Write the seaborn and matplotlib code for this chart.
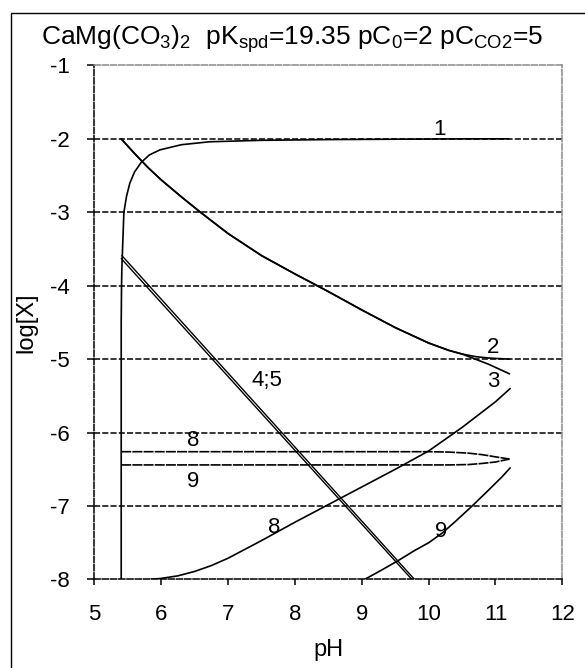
import matplotlib
matplotlib.use("Agg")
import matplotlib.pyplot as plt
import seaborn as sns
import pandas as pd
from matplotlib.patches import Rectangle

# ---------------- data ----------------
x_ticks = [5, 6, 7, 8, 9, 10, 11, 12]
y_ticks = [-8, -7, -6, -5, -4, -3, -2, -1]

c1_x = [5.40, 5.40, 5.405, 5.41, 5.42, 5.44, 5.48, 5.53, 5.60, 5.70, 5.82, 5.98, 6.30, 6.72, 7.50, 8.50, 9.50, 10.50, 11.20]
c1_y = [-8.0, -4.5, -4.0, -3.75, -3.5, -3.0, -2.78, -2.6, -2.45, -2.32, -2.22, -2.15, -2.08, -2.04, -2.02, -2.01, -2.005, -2.0, -2.0]

c23_x = [5.40, 5.60, 5.80, 6.00, 6.30, 6.60, 7.00, 7.50, 8.00, 8.50, 9.00, 9.50, 10.00, 10.30, 10.50, 10.70, 10.90, 11.21]
c2_y = [-2.0, -2.2, -2.39, -2.56, -2.79, -3.01, -3.29, -3.59, -3.84, -4.08, -4.33, -4.57, -4.78, -4.88, -4.93, -4.965, -4.985, -5.0]
c3_y = [-2.0, -2.2, -2.39, -2.56, -2.79, -3.01, -3.29, -3.59, -3.84, -4.08, -4.33, -4.57, -4.78, -4.88, -4.93, -5.0, -5.07, -5.2]

c4_x = [5.41, 9.79]
c4_y = [-3.59, -8.0]
c5_x = [5.40, 9.75]
c5_y = [-3.63, -8.0]

c8a_x = [5.40, 10.0, 10.3, 10.6, 10.8, 11.0, 11.21]
c8a_y = [-6.26, -6.26, -6.265, -6.28, -6.30, -6.33, -6.36]
c9a_x = [5.40, 10.3, 10.6, 10.8, 11.0, 11.21]
c9a_y = [-6.44, -6.44, -6.435, -6.42, -6.40, -6.36]

c8b_x = [5.83, 6.0, 6.25, 6.5, 6.75, 7.0, 7.5, 8.0, 8.5, 9.0, 9.5, 10.0, 10.5, 11.0, 11.22]
c8b_y = [-8.0, -7.985, -7.95, -7.89, -7.81, -7.71, -7.47, -7.22, -6.98, -6.74, -6.5, -6.25, -5.93, -5.58, -5.40]
c9b_x = [9.04, 9.3, 9.54, 9.8, 10.0, 10.2, 10.4, 10.65, 10.9, 11.1, 11.22]
c9b_y = [-8.0, -7.87, -7.745, -7.6, -7.5, -7.37, -7.21, -7.0, -6.78, -6.6, -6.48]

labels = ["1", "2", "3", "4;5", "8", "9", "8", "9"]
label_x = [10.17, 10.97, 10.97, 7.58, 6.47, 6.47, 7.69, 10.18]
label_y = [-1.87, -4.84, -5.30, -5.29, -6.11, -6.67, -7.29, -7.35]

title = r"CaMg(CO$_3$)$_2$  pK$_{spd}$=19.35 pC$_0$=2 pC$_{CO2}$=5"

# ---------------- style ----------------
sns.set_theme(style="white")
plt.rcParams["font.family"] = ["Liberation Sans", "DejaVu Sans"]
plt.rcParams["mathtext.fontset"] = "custom"
plt.rcParams["mathtext.rm"] = "Liberation Sans"
plt.rcParams["mathtext.it"] = "Liberation Sans"
plt.rcParams["mathtext.bf"] = "Liberation Sans"
plt.rcParams["mathtext.default"] = "regular"

fig = plt.figure(figsize=(5.85, 6.68), dpi=100)
ax = fig.add_axes([0.1615, 0.1325, 0.9612 - 0.1615, 0.9021 - 0.1325])

solid = "-"
lens = (0, (6.0, 0.7))
curves = [(c1_x, c1_y, 1.2, solid), (c23_x, c2_y, 1.2, solid), (c23_x, c3_y, 1.2, solid),
          (c4_x, c4_y, 1.0, solid), (c5_x, c5_y, 1.0, solid),
          (c8a_x, c8a_y, 1.2, lens), (c9a_x, c9a_y, 1.2, lens),
          (c8b_x, c8b_y, 1.2, solid), (c9b_x, c9b_y, 1.2, solid)]
for cx, cy, lw, ls in curves:
    df = pd.DataFrame({"pH": cx, "logX": cy})
    sns.lineplot(data=df, x="pH", y="logX", ax=ax, estimator=None, sort=False,
                 color="black", lw=lw, linestyle=ls, zorder=3)

for t, lx, ly in zip(labels, label_x, label_y):
    ax.text(lx, ly, t, ha="center", va="center", fontsize=16, color="black", zorder=4)

ax.set_xlim(5, 12)
ax.set_ylim(-8, -1)
ax.set_xticks(x_ticks)
ax.set_yticks(y_ticks)
ax.set_xticklabels([str(v) for v in x_ticks])
ax.set_yticklabels([str(v) for v in y_ticks])
ax.tick_params(axis="both", labelsize=16, colors="black", direction="out", width=1.1)
ax.tick_params(axis="x", length=4, pad=14, bottom=True)
ax.tick_params(axis="y", length=5, pad=13, left=True)

dash = (0, (4.0, 1.4))
ax.yaxis.grid(True, color="black", lw=1.1, linestyle=dash)
ax.xaxis.grid(False)
ax.set_axisbelow(True)
gl = ax.get_ygridlines()
gl[0].set_visible(False)
gl[-1].set_visible(False)

for side in ["left", "bottom"]:
    ax.spines[side].set_visible(True)
    ax.spines[side].set_color("black")
    ax.spines[side].set_linewidth(1.1)
    ax.spines[side].set_linestyle(dash)
for side in ["top", "right"]:
    ax.spines[side].set_visible(True)
    ax.spines[side].set_color("#8a8a8a")
    ax.spines[side].set_linewidth(1.1)
    ax.spines[side].set_linestyle(dash)

ax.set_xlabel("pH", fontsize=17, color="black")
ax.set_ylabel("log[X]", fontsize=17, color="black")
ax.xaxis.label.set_va("center")
ax.yaxis.label.set_va("center")
ax.xaxis.set_label_coords(0.5, -0.137)
ax.yaxis.set_label_coords(-0.145, 0.5)

fig.text(0.5, 1 - 39 / 668, title, ha="center", va="center", fontsize=19, color="black")

fig.patches.append(Rectangle((10.7 / 585, -0.05), 1.2, 1 - 12.7 / 668 + 0.05,
                             transform=fig.transFigure, fill=False,
                             edgecolor="black", lw=1.0, zorder=10))

fig.savefig("out.png", dpi=100, facecolor="white")
